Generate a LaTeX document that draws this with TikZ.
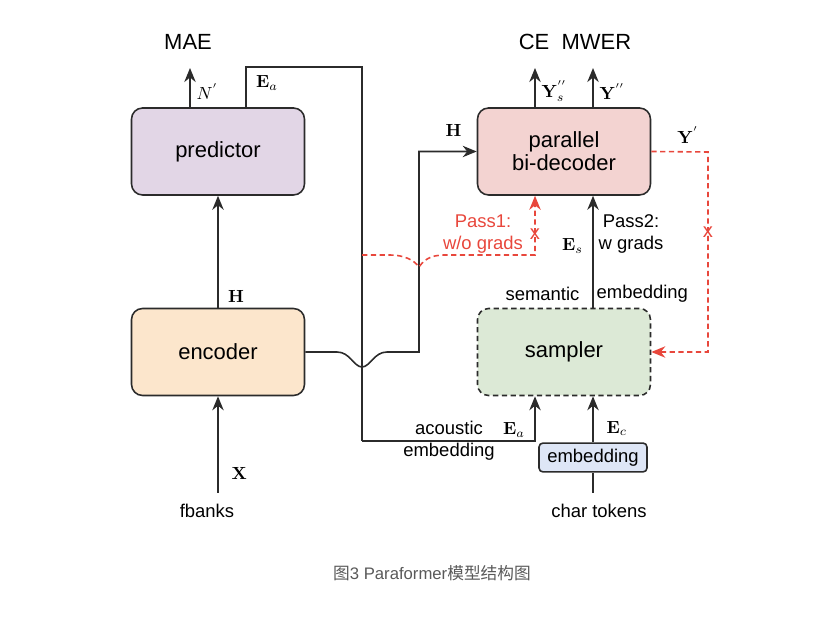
\documentclass[tikz,border=0pt]{standalone}
\usepackage[no-math]{fontspec}
\setmainfont{Liberation Sans}
\newfontfamily\cjkfont{Noto Sans CJK SC}
\usetikzlibrary{arrows.meta,positioning}
\definecolor{predfill}{HTML}{E2D6E6}
\definecolor{encfill}{HTML}{FCE6CC}
\definecolor{decfill}{HTML}{F3D3D1}
\definecolor{sampfill}{HTML}{DCE9D6}
\definecolor{embfill}{HTML}{DEE6F6}
\definecolor{passred}{HTML}{E8473C}
\definecolor{edge}{HTML}{2B2B2B}
\begin{document}
\begin{tikzpicture}
         [x=0.02cm, y=-0.02cm, line width=0.9pt,
          block/.style={rectangle,rounded corners=0.22cm,draw=edge,line width=0.9pt,
                        minimum width=3.46cm,minimum height=1.74cm,font=\fontsize{12.5}{15}\selectfont,align=center},
          lbl/.style={font=\fontsize{10.5}{12.6}\selectfont,align=center},
          arr/.style={-{Stealth[length=8pt,width=6.5pt]},draw=edge},
          pass/.style={dashed,dash pattern=on 3pt off 2pt,draw=passred,-{Stealth[length=8pt,width=6.5pt]}},
          cut/.style={text=passred,font=\fontsize{11.5}{11.5}\selectfont,inner sep=0pt}]
         \useasboundingbox (0,0) rectangle (831,617);

         \node[block, fill=predfill] (pred) at (218,151.5) {predictor};
         \node[block, fill=encfill] (enc) at (218,352) {encoder};
         \node[block, fill=decfill] (dec) at (564,151.5) {parallel\\[-2pt]bi-decoder};
         \node[block, fill=sampfill, dashed, dash pattern=on 3pt off 2pt] (samp) at (564,352) {sampler};
         \node[rectangle, rounded corners=0.08cm, draw=edge, line width=0.9pt, fill=embfill,
               minimum width=2.16cm, minimum height=0.5cm, lbl] (emb) at (593,457.5) {embedding};

         \node[font=\fontsize{12.5}{15}\selectfont] (mae) at (188,42) {MAE};
         \node[font=\fontsize{12.5}{15}\selectfont] (loss) at (575,42) {CE\ \ MWER};
         \node[lbl, inner sep=6pt] (fbanks) at (207,511) {fbanks};
         \node[lbl, inner sep=6pt] (chars) at (599,511) {char tokens};

         \coordinate (maeout) at (190,68);
         \coordinate (ceout) at (535,68);
         \coordinate (mwerout) at (593,68);
         \coordinate (eatop) at (362,67);
         \coordinate (eabot) at (362,441);
         \coordinate (split) at (362,255);
         \coordinate (yturn) at (708,152);

         % predictor side
         \draw[arr] (pred.north -| maeout) -- node[right, pos=0.4] {$N^{'}$} (maeout);
         \draw[draw=edge] (pred.north -| 246,0) |- node[pos=0.3, right=2pt] {$\mathbf{E}_a$} (eatop) -- (eabot);
         \draw[arr] (enc) -- node[pos=0.1, right=2pt] {$\mathbf{H}$} (pred);
         \draw[arr] (fbanks.north -| enc) -- node[pos=0.2, right=4pt] {$\mathbf{X}$} (enc);

         % encoder to decoder, hopping over the E_a line
         \draw[arr] (enc.east) -- (337,352) .. controls (350,352) and (354,367) .. (362,367)
               .. controls (370,367) and (374,352) .. (387,352) -- (419,352)
               |- node[pos=0.8, above=5pt] {$\mathbf{H}$} (dec.west);

         % decoder outputs
         \draw[arr] (dec.north -| ceout) -- node[right, pos=0.4] {$\mathbf{Y}^{''}_s$} (ceout);
         \draw[arr] (dec.north -| mwerout) -- node[right, pos=0.4] {$\mathbf{Y}^{''}$} (mwerout);

         % sampler
         \draw[arr] (samp.north -| mwerout) -- node[left=2pt, pos=0.55] {$\mathbf{E}_s$} (dec.south -| mwerout);
         \node[lbl, anchor=east] (sem) at (586,294) {semantic};
         \node[lbl, anchor=west] (semb) at (590,294) {embedding};
         \node[lbl] (pass2) at (631,234) {Pass2:\\w grads};
         \draw[arr] (eabot) -| node[pos=0.62, left=2pt] {$\mathbf{E}_a$} (samp.south -| ceout);
         \node[lbl] (acou) at (449,441) {acoustic\\embedding};
         \draw[arr] (emb) -- node[right=4pt, pos=0.3] {$\mathbf{E}_c$} (samp.south -| emb);
         \draw[draw=edge] (chars.north -| emb) -- (emb);

         % the two passes
         \draw[pass] (split) -- (390,255) .. controls (404,255) and (414,260) .. (419,267)
               .. controls (424,260) and (430,255) .. (445,255) -| node[pos=0.68, cut] {x} (dec.south -| ceout);
         \node[lbl, text=passred] (pass1) at (483,234) {Pass1:\\w/o grads};
         \draw[pass] (dec.east) -- node[pos=0.65, above=1pt, text=black] {$\mathbf{Y}^{'}$} (yturn)
               |- node[pos=0.2, cut] {x} (samp.east);

         \node[font=\fontsize{9.5}{11}\selectfont, text=black!65] (cap) at (432,573) {{\cjkfont 图}3 Paraformer{\cjkfont 模型结构图}};
      \end{tikzpicture}
\end{document}
